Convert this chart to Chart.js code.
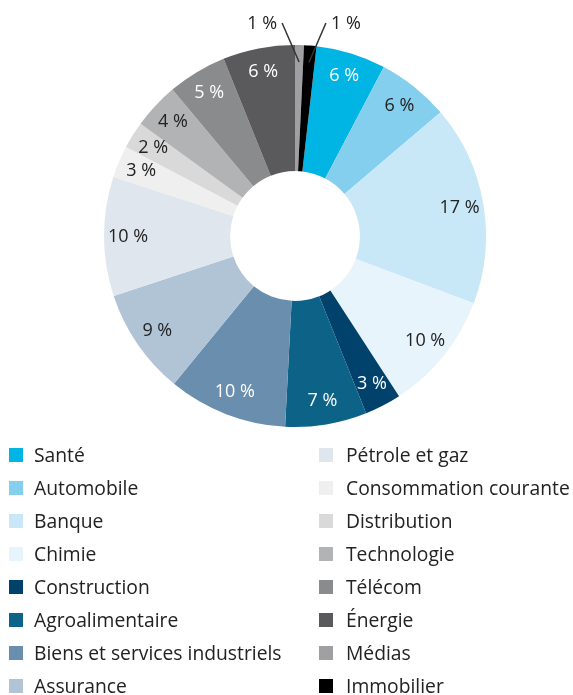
<!DOCTYPE html>
<html lang="fr">
<head>
<meta charset="utf-8">
<script src="https://cdn.jsdelivr.net/npm/chart.js@4.4.0/dist/chart.umd.min.js"></script>
<style>
  body { margin: 0; background: #fff; font-family: "Open Sans", sans-serif; color: #222; }
  #wrap { position: relative; width: 573px; height: 440px; }
  #legend {
    position: absolute; top: 438px; left: 0; width: 573px;
    display: grid; grid-template-columns: 310px 263px;
    grid-template-rows: repeat(8, 33px); grid-auto-flow: column;
  }
  .item { display: flex; align-items: center; font-size: 19.3px; white-space: nowrap; }
  .box { width: 14px; height: 14px; margin-left: 9px; margin-right: 11px; flex: none; }
  .item.right .box { margin-right: 13px; }
</style>
</head>
<body>
<div id="wrap"><canvas id="donut"></canvas></div>
<div id="legend"></div>
<script>
// secteurs, dans l'ordre de la légende
const sectors = [
  "Santé", "Automobile", "Banque", "Chimie", "Construction", "Agroalimentaire",
  "Biens et services industriels", "Assurance", "Pétrole et gaz",
  "Consommation courante", "Distribution", "Technologie", "Télécom",
  "Énergie", "Médias", "Immobilier"
];
// poids en %
const weights = [5.9, 6.1, 16.95, 10.1, 3.1, 6.9, 10.1, 9.0, 10.1, 2.7, 2.3, 3.9, 5.0, 6.1, 0.75, 1.05];

const colors = [
  "#00b4e4", "#84cfee", "#c8e7f7", "#e8f4fb", "#00426b", "#0d6287",
  "#6a8ead", "#b0c4d6", "#dfe6ee", "#efefef", "#d9d9da", "#b2b3b4",
  "#8a8b8d", "#5a5a5c", "#a0a0a2", "#000000"
];

const total = weights.reduce((a, b) => a + b, 0);
// Médias + Immobilier start at 12 o'clock, so Santé begins just after them
const startShift = (weights[14] + weights[15]) / total * 360;

function isDark(hex) {
  const n = parseInt(hex.slice(1), 16);
  const r = n >> 16, g = (n >> 8) & 255, b = n & 255;
  return (0.299 * r + 0.587 * g + 0.114 * b) / 255 < 0.6;
}

const sliceLabels = {
  id: "sliceLabels",
  afterDatasetsDraw(chart) {
    const ctx = chart.ctx;
    const meta = chart.getDatasetMeta(0);
    ctx.save();
    ctx.font = '18px "Open Sans"';
    ctx.textAlign = "center";
    ctx.textBaseline = "middle";
    let small = 0;
    meta.data.forEach((arc, i) => {
      const p = arc.getProps(["x", "y", "startAngle", "endAngle", "innerRadius", "outerRadius"], true);
      const mid = (p.startAngle + p.endAngle) / 2;
      const txt = Math.round(weights[i]) + " %";
      if (weights[i] < 1.5) {
        // thin slices: label outside with a leader line
        const side = small++ === 0 ? -1 : 1;
        const r = p.outerRadius - 17;
        const ax = p.x + Math.cos(mid) * r, ay = p.y + Math.sin(mid) * r;
        const bx = ax + side * 17, by = p.y - p.outerRadius - 22;
        ctx.strokeStyle = "#333";
        ctx.lineWidth = 1.5;
        ctx.beginPath();
        ctx.moveTo(ax, ay);
        ctx.lineTo(bx, by);
        ctx.stroke();
        ctx.fillStyle = "#222";
        ctx.fillText(txt, bx + side * 20, by + 1);
      } else {
        const r = p.innerRadius + (p.outerRadius - p.innerRadius) * 0.81;
        ctx.fillStyle = isDark(colors[i]) ? "#ffffff" : "#222";
        ctx.fillText(txt, p.x + Math.cos(mid) * r, p.y + Math.sin(mid) * r);
      }
    });
    ctx.restore();
  }
};

const chart = new Chart(document.getElementById("donut"), {
  type: "doughnut",
  data: {
    labels: sectors,
    datasets: [{
      data: weights,
      backgroundColor: colors,
      borderWidth: 0,
      hoverOffset: 0
    }]
  },
  options: {
    responsive: true,
    maintainAspectRatio: false,
    animation: false,
    events: [],
    cutout: "34%",
    rotation: startShift,
    layout: { padding: { top: 45, bottom: 13, left: 17, right: 0 } },
    plugins: {
      legend: { display: false },
      tooltip: { enabled: false }
    }
  },
  plugins: [sliceLabels]
});

// two-column legend, built from the chart's own legend items
const legendEl = document.getElementById("legend");
chart.options.plugins.legend.labels.generateLabels(chart).forEach((item, i) => {
  const div = document.createElement("div");
  div.className = "item" + (i >= 8 ? " right" : "");
  const box = document.createElement("span");
  box.className = "box";
  box.style.background = item.fillStyle;
  const label = document.createElement("span");
  label.textContent = item.text;
  div.appendChild(box);
  div.appendChild(label);
  legendEl.appendChild(div);
});
</script>
</body>
</html>
